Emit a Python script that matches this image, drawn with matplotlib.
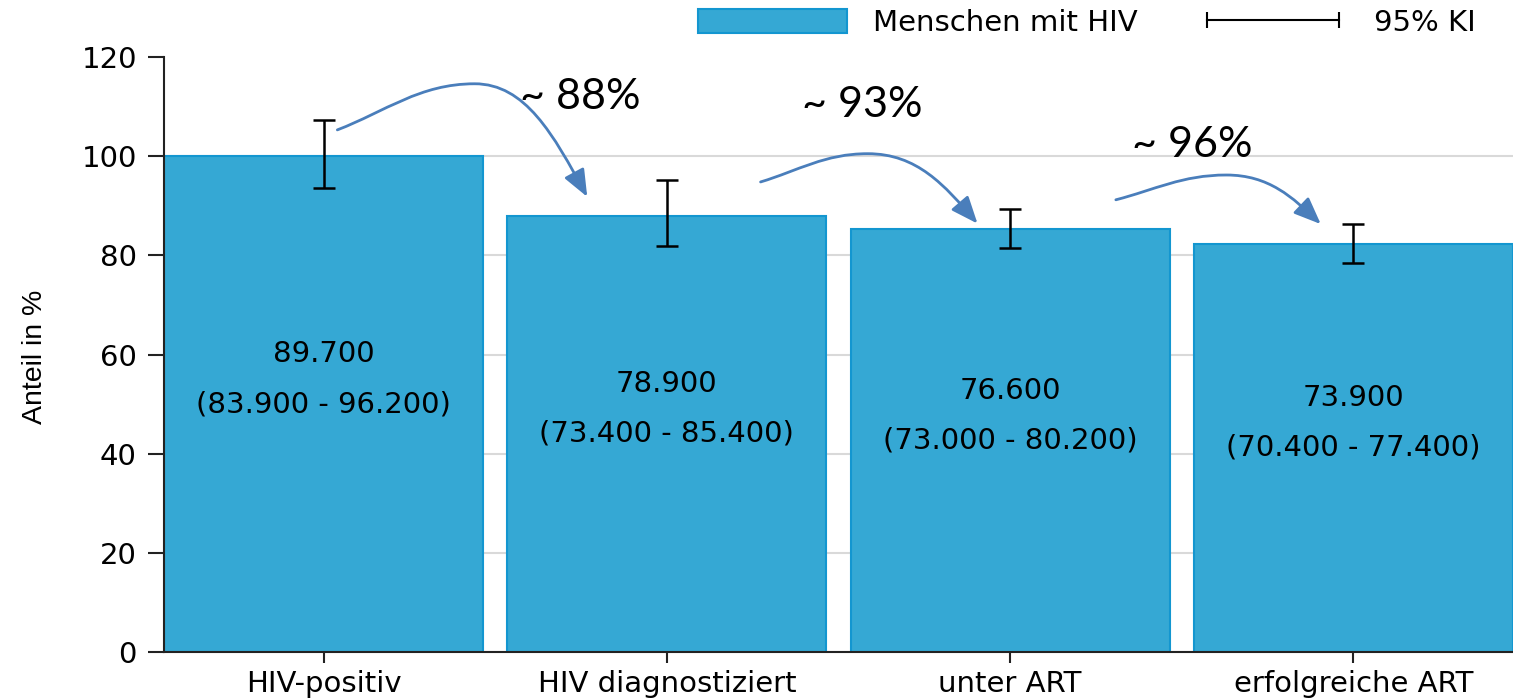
"""HIV care cascade: share of people with HIV per stage, with 95% KI."""
import matplotlib
matplotlib.use("Agg")
import matplotlib.pyplot as plt
from matplotlib.lines import Line2D
from matplotlib.patches import Patch, FancyArrowPatch
from matplotlib.path import Path
import numpy as np

stages = ["HIV-positiv", "HIV diagnostiziert", "unter ART", "erfolgreiche ART"]
estimate = [89.7, 78.9, 76.6, 73.9]
ci_low = [83.9, 73.4, 73.0, 70.4]
ci_high = [96.2, 85.4, 80.2, 77.4]
step_labels = ["~ 88%", "~ 93%", "~ 96%"]

BAR = "#35a8d4"
EDGE = "#1396d0"
ARROW = "#4a7ebb"
TXT = ["DejaVu Sans"]
FS = 21

base = estimate[0]
share = np.array(estimate) / base * 100
low = np.array(ci_low) / base * 100
high = np.array(ci_high) / base * 100

fig = plt.figure(figsize=(15.13, 6.98), dpi=100)
ax = fig.add_axes([164 / 1513, 46 / 698, 1 - 164 / 1513, 595 / 698])
x = np.arange(len(stages))

ax.yaxis.grid(True, color="#d9d9d9", lw=1.5, zorder=0)
ax.set_axisbelow(True)
ax.bar(x, share, width=0.93, color=BAR, edgecolor=EDGE, lw=1.5, zorder=2)
ax.errorbar(x, share, yerr=[share - low, high - share], fmt="none",
            ecolor="black", elinewidth=1.8, capsize=8, capthick=1.8, zorder=4)

for xi, h, v, lo, hi in zip(x, share, estimate, ci_low, ci_high):
    mid = h / 2 + 5
    ax.text(xi, mid + 5, f"{v:.3f}", ha="center", va="center",
            fontsize=FS, family=TXT, zorder=5)
    ax.text(xi, mid - 5, f"({lo:.3f} - {hi:.3f})", ha="center", va="center",
            fontsize=FS, family=TXT, zorder=5)

# curved arrows between stages: start, peak, end
arrow_geo = [((0.04, 105.3), (0.44, 114.6), (0.768, 91.8)),
             ((1.273, 94.8), (1.585, 100.5), (1.905, 86.4)),
             ((2.308, 91.2), (2.63, 96.2), (2.905, 86.3))]
text_pos = [(0.748, 112.0), (1.57, 110.3), (2.532, 102.3)]

for (s, k, e), lab, tp in zip(arrow_geo, step_labels, text_pos):
    dxa, dya = k[0] - s[0], k[1] - s[1]
    dxb = e[0] - k[0]
    verts = [s,
             (s[0] + 0.35 * dxa, s[1] + 0.4 * dya), (k[0] - 0.4 * dxa, k[1]), k,
             (k[0] + 0.45 * dxb, k[1]), (e[0] - 0.3 * dxb, e[1] + 0.55 * (k[1] - e[1])), e]
    codes = [Path.MOVETO] + [Path.CURVE4] * 6
    arr = FancyArrowPatch(path=Path(verts, codes), arrowstyle="-|>,head_length=1.1,head_width=0.45",
                          mutation_scale=15, color=ARROW, lw=2, zorder=6)
    ax.add_patch(arr)
    ax.text(tp[0], tp[1], lab, ha="center", va="center", fontsize=31,
            family=["Lato", "DejaVu Sans"], zorder=6)

ax.set_ylim(0, 120)
ax.set_yticks(range(0, 121, 20))
ax.yaxis.get_gridlines()[-1].set_visible(False)
ax.set_xlim(-0.465, 3.465)
ax.set_xticks(x)
ax.set_xticklabels(stages)
ax.tick_params(axis="y", length=11.5, width=1.5, pad=8, labelsize=FS, color="#222222")
ax.tick_params(axis="x", length=8, width=1.5, pad=5, labelsize=FS, color="#222222")
for lab in ax.get_xticklabels() + ax.get_yticklabels():
    lab.set_family(TXT)
for side in ["top", "right"]:
    ax.spines[side].set_visible(False)
for side in ["left", "bottom"]:
    ax.spines[side].set_linewidth(1.5)
    ax.spines[side].set_color("#222222")

fig.text(35 / 1513, 1 - 357 / 698, "Anteil in %", rotation=90, ha="center", va="center",
         fontsize=20.5, family=["Liberation Sans Narrow", "Liberation Sans"])

handles = [Patch(facecolor=BAR, edgecolor=EDGE, lw=1.5, label="Menschen mit HIV"),
           Line2D([0], [0], color="black", lw=1.5, marker="|", markersize=11,
                  markeredgewidth=1.5, label="95% KI")]
fig.legend(handles=handles, loc="upper right", bbox_to_anchor=(1490 / 1513, 1.008),
           ncol=2, frameon=False, numpoints=2, handlelength=5.1, handleheight=0.9,
           handletextpad=0.9, columnspacing=2.1, borderpad=0.0,
           prop={"family": "DejaVu Sans", "size": FS})

fig.savefig("out.png", dpi=100)
